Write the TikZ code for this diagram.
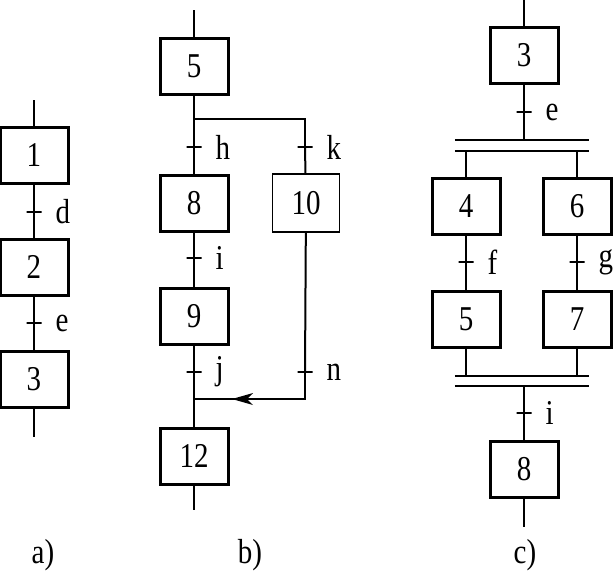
\documentclass[tikz,border=0pt]{standalone}
\usepackage{fontspec}
\setmainfont{Liberation Serif}
\usetikzlibrary{arrows.meta,positioning}
\newcommand{\grtxt}[1]{\scalebox{1}[1.2]{#1}}

\begin{document}
\begin{tikzpicture}[
  x=1pt,y=-1pt,
  font=\fontsize{29}{34}\selectfont,
  stepbox/.style={draw,line width=3pt,minimum width=68pt,minimum height=56pt,inner sep=0pt},
  thinbox/.style={draw,line width=1.5pt,minimum width=67pt,minimum height=58pt,inner sep=0pt},
  trans/.style={draw,line width=1.6pt,minimum width=15pt,minimum height=0pt,inner sep=0pt,outer sep=0pt},
  every label/.style={inner sep=0pt,xshift=14pt},
  sync/.style={minimum width=134pt,minimum height=11pt,inner sep=0pt},
  ln/.style={line width=2pt},
  bar/.style={line width=1.5pt},
]
  \useasboundingbox (0,0) rectangle (613,573);

  % a) simple sequence
  \node[stepbox] (a1) at (34,155) {\grtxt{1}};
  \node[stepbox] (a2) at (34,267) {\grtxt{2}};
  \node[stepbox] (a3) at (34,379) {\grtxt{3}};
  \node[trans,label={right:\grtxt{d}}] (ad) at (34,212) {};
  \node[trans,label={right:\grtxt{e}}] (ae) at (34,323) {};
  \coordinate (atop) at (34,100);
  \coordinate (aend) at (34,437);

  \draw[ln] (atop) -- (a1);
  \draw[ln] (a1) -- (ad) -- (a2);
  \draw[ln] (a2) -- (ae) -- (a3);
  \draw[ln] (a3) -- (aend);

  % b) alternative branches
  \node[stepbox] (b5)  at (194,66)  {\grtxt{5}};
  \node[stepbox] (b8)  at (194,203) {\grtxt{8}};
  \node[thinbox] (b10) at (306,203) {\grtxt{10}};
  \node[stepbox] (b9)  at (194,316) {\grtxt{9}};
  \node[stepbox] (b12) at (194,456) {\grtxt{12}};
  \node[trans,label={right:\grtxt{h}}] (bh) at (194,147) {};
  \node[trans,label={right:\grtxt{k}}] (bk) at (305,147) {};
  \node[trans,label={right:\grtxt{i}}] (bi) at (194,258) {};
  \node[trans,label={right:\grtxt{j}}] (bj) at (194,372) {};
  \node[trans,label={right:\grtxt{n}}] (bn) at (305,372) {};
  \coordinate (btop)   at (194,10);
  \coordinate (bsplit) at (194,119);
  \coordinate (bjoin)  at (194,399);
  \coordinate (barrow) at (232,399);
  \coordinate (bend)   at (194,510);

  \draw[ln] (btop) -- (b5);
  \draw[ln] (b5) -- (bh) -- (b8);
  \draw[bar] (bsplit) -| (bk);
  \draw[ln] (bk) -- (b10);
  \draw[ln] (b8) -- (bi) -- (b9);
  \draw[ln] (b9) -- (bj) -- (b12);
  \draw[ln] (b10) -- (bn);
  \draw[bar] (bn) |- (bjoin);
  % arrow head on the return line
  \fill (barrow) -- ++(21,-6) -- ++(-6,6) -- ++(6,6) -- cycle;
  \draw[ln] (b12) -- (bend);

  % c) parallel branches
  \node[stepbox] (c3) at (524,55)  {\grtxt{3}};
  \node[stepbox] (c4) at (466,206) {\grtxt{4}};
  \node[stepbox] (c6) at (577,206) {\grtxt{6}};
  \node[stepbox] (c5) at (466,319) {\grtxt{5}};
  \node[stepbox] (c7) at (577,319) {\grtxt{7}};
  \node[stepbox] (c8) at (524,469) {\grtxt{8}};
  \node[trans,label={right:\grtxt{e}}] (ce) at (524,112) {};
  \node[trans,label={right:\grtxt{f}}] (cf) at (466,262) {};
  \node[trans,label={right:\grtxt{g}}] (cg) at (577,262) {};
  \node[trans,label={right:\grtxt{i}}] (ci) at (524,413) {};
  \node[sync] (fork) at (522,145.5) {};
  \node[sync,minimum height=10pt] (join) at (522,381) {};
  \coordinate (ctop) at (524,0);
  \coordinate (cend) at (524,527);

  \draw[ln] (ctop) -- (c3);
  \draw[ln] (c3) -- (ce) -- (fork.north -| c3);
  \draw[bar] (fork.north west) -- (fork.north east);
  \draw[bar] (fork.south west) -- (fork.south east);
  \draw[ln] (fork.south -| c4) -- (c4);
  \draw[ln] (fork.south -| c6) -- (c6);
  \draw[ln] (c4) -- (cf) -- (c5);
  \draw[ln] (c6) -- (cg) -- (c7);
  \draw[ln] (c5) -- (join.north -| c5);
  \draw[ln] (c7) -- (join.north -| c7);
  \draw[bar] (join.north west) -- (join.north east);
  \draw[bar] (join.south west) -- (join.south east);
  \draw[ln] (join.south -| c8) -- (ci) -- (c8);
  \draw[ln] (c8) -- (cend);

  % captions
  \node (capa) at (43,555)  {\grtxt{a)}};
  \node (capb) at (250,555) {\grtxt{b)}};
  \node (capc) at (525,555) {\grtxt{c)}};
\end{tikzpicture}
\end{document}
